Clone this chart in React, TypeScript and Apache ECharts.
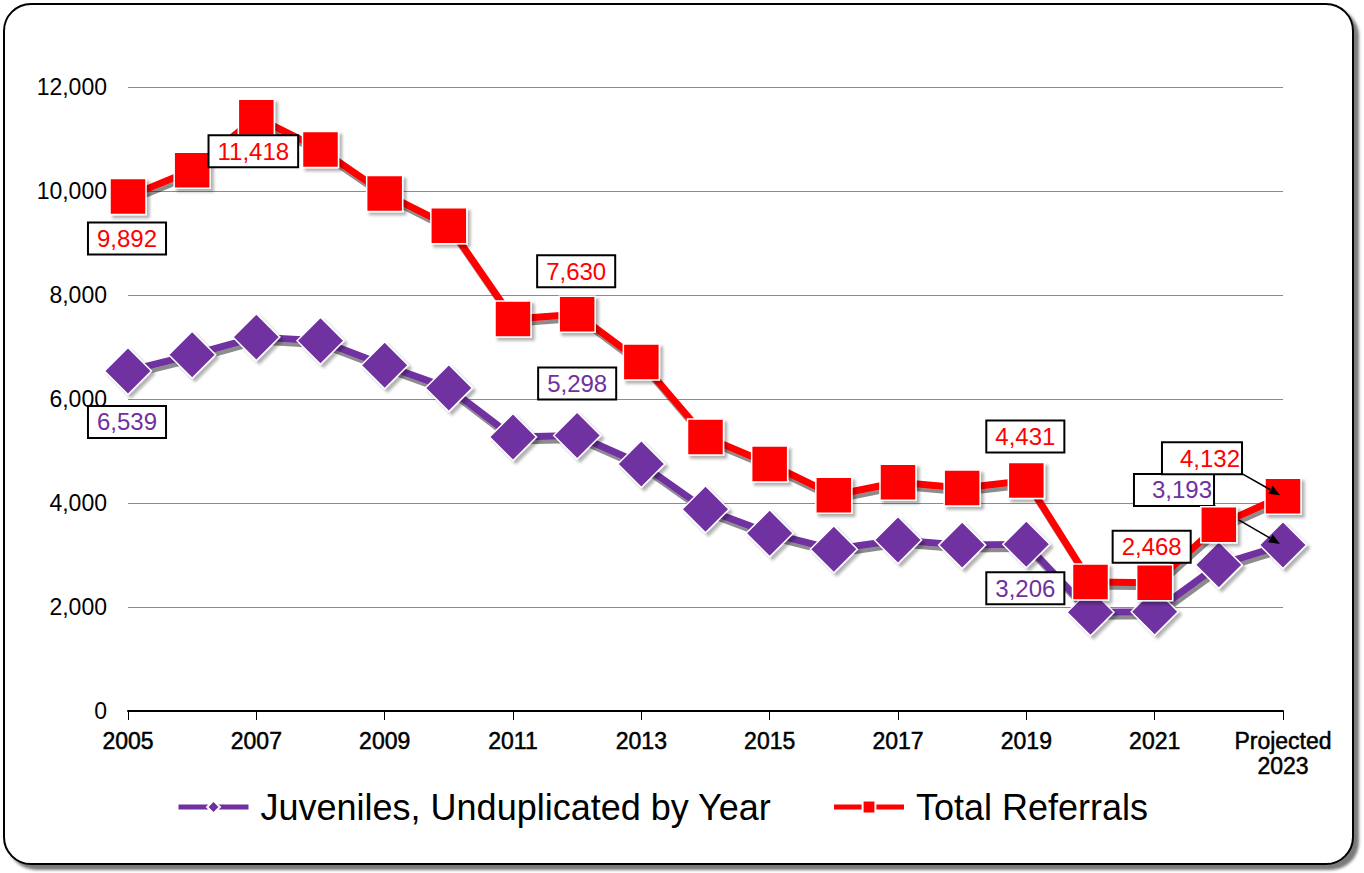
import React, { useEffect, useRef } from 'react';
import * as echarts from 'echarts';

const categories = [
  '2005', '2006', '2007', '2008', '2009', '2010', '2011', '2012', '2013', '2014',
  '2015', '2016', '2017', '2018', '2019', '2020', '2021', '2022', 'Projected\n2023',
];
const juveniles = [
  6539, 6850, 7190, 7120, 6650, 6210, 5270, 5298, 4750, 3880,
  3420, 3110, 3290, 3190, 3206, 1900, 1910, 2810, 3193,
];
const referrals = [
  9892, 10400, 11418, 10800, 9950, 9330, 7540, 7630, 6710, 5270,
  4750, 4150, 4400, 4290, 4431, 2480, 2468, 3580, 4132,
];
const seriesNames = ['Juveniles, Unduplicated by Year', 'Total Referrals'];
const yMin = 0;
const yMax = 12000;
const yInterval = 2000;

const RED = '#FF0000';
const PURPLE = '#7030A0';
const FONT = '"Liberation Sans", Arial, Helvetica, sans-serif';

type LabelCfg = { offset: [number, number]; padding?: number[] };
const redLabelCfg: Record<number, LabelCfg> = {
  0: { offset: [-1, 42] },
  2: { offset: [-3, 34] },
  7: { offset: [-1, -43] },
  14: { offset: [-1, -44] },
  16: { offset: [-3, -36] },
  18: { offset: [-81, -38], padding: [2, 1, 2, 17] },
};
const purpleLabelCfg: Record<number, LabelCfg> = {
  0: { offset: [-1, 51] },
  7: { offset: [0, -52] },
  14: { offset: [-1, 44] },
  18: { offset: [-109, -55], padding: [2, 1, 2, 17] },
};

function buildData(values: number[], cfg: Record<number, LabelCfg>, color: string) {
  return values.map((v, i) => {
    const c = cfg[i];
    if (!c) return v;
    return {
      value: v,
      label: {
        show: true,
        position: 'inside',
        offset: c.offset,
        formatter: (p: any) => Number(p.value).toLocaleString('en-US'),
        color,
        fontSize: 24,
        fontFamily: FONT,
        lineHeight: 26,
        backgroundColor: '#fff',
        borderColor: '#000',
        borderWidth: 2,
        padding: c.padding || [2, 8, 2, 8],
      },
    };
  });
}

function makeArrow(sx: number, sy: number, ex: number, ey: number, z: number) {
  const dx = ex - sx;
  const dy = ey - sy;
  const len = Math.hypot(dx, dy) || 1;
  const ux = dx / len;
  const uy = dy / len;
  const hl = 11;
  const hw = 4.5;
  const bx = ex - ux * hl;
  const by = ey - uy * hl;
  return [
    {
      type: 'line',
      z,
      silent: true,
      shape: { x1: sx, y1: sy, x2: bx, y2: by },
      style: { stroke: '#000', lineWidth: 1.5 },
    },
    {
      type: 'polygon',
      z,
      silent: true,
      shape: {
        points: [
          [ex, ey],
          [bx - uy * hw, by + ux * hw],
          [bx + uy * hw, by - ux * hw],
        ],
      },
      style: { fill: '#000' },
    },
  ];
}

const lineShadow = {
  shadowColor: 'rgba(0,0,0,0.45)',
  shadowOffsetX: 2,
  shadowOffsetY: 4,
  shadowBlur: 1,
};
const markerShadow = {
  borderColor: '#fff',
  borderWidth: 1.5,
  shadowColor: 'rgba(0,0,0,0.3)',
  shadowBlur: 3,
  shadowOffsetX: 3,
  shadowOffsetY: 3,
};

export default function App() {
  const ref = useRef<HTMLDivElement>(null);

  useEffect(() => {
    if (!ref.current) return;
    const chart = echarts.init(ref.current, null, { renderer: 'svg' });
    const option: any = {
      animation: false,
      backgroundColor: 'transparent',
      grid: { left: 128, right: 81, top: 87, bottom: 162, containLabel: false },
      legend: {
        left: 171,
        top: 784,
        itemWidth: 70,
        itemHeight: 16,
        itemGap: 60,
        selectedMode: false,
        data: seriesNames,
        lineStyle: { width: 5 },
        textStyle: { fontSize: 36, color: '#000', fontFamily: FONT, padding: [0, 0, 0, 7] },
      },
      xAxis: {
        type: 'category',
        data: categories,
        boundaryGap: false,
        axisLine: { show: true, lineStyle: { color: '#000', width: 2 } },
        axisTick: { show: true, interval: 1, length: 9, lineStyle: { color: '#000', width: 1 } },
        axisLabel: {
          interval: 1,
          fontSize: 23,
          fontWeight: 'normal',
          lineHeight: 25,
          color: '#000',
          textBorderColor: '#000',
          textBorderWidth: 0.5,
          fontFamily: FONT,
          margin: 17,
        },
        splitLine: { show: false },
      },
      yAxis: {
        type: 'value',
        min: yMin,
        max: yMax,
        interval: yInterval,
        axisLine: { show: false },
        axisTick: { show: false },
        axisLabel: {
          fontSize: 23,
          color: '#000',
          fontFamily: FONT,
          margin: 21,
          formatter: (v: number) => v.toLocaleString('en-US'),
        },
        splitLine: { show: true, lineStyle: { color: '#8c8c8c', width: 1 } },
      },
      series: [
        {
          id: 'juv',
          name: seriesNames[0],
          type: 'line',
          z: 2,
          data: buildData(juveniles, purpleLabelCfg, PURPLE),
          symbol: 'diamond',
          symbolSize: 47,
          showAllSymbol: true,
          emphasis: { disabled: true },
          lineStyle: { color: PURPLE, width: 7, ...lineShadow },
          itemStyle: { color: PURPLE, ...markerShadow },
        },
        {
          id: 'ref',
          name: seriesNames[1],
          type: 'line',
          z: 4,
          data: buildData(referrals, redLabelCfg, RED),
          symbol: 'rect',
          symbolSize: 36,
          showAllSymbol: true,
          emphasis: { disabled: true },
          lineStyle: { color: RED, width: 7, ...lineShadow },
          itemStyle: { color: RED, ...markerShadow },
        },
      ],
    };
    chart.setOption(option);

    const last = categories.length - 1;
    const pr = chart.convertToPixel({ gridIndex: 0 }, [last, referrals[last]]) as number[];
    const pj = chart.convertToPixel({ gridIndex: 0 }, [last, juveniles[last]]) as number[];
    const elements = [
      ...makeArrow(pr[0] - 42, pr[1] - 23, pr[0] - 3, pr[1] - 1, 10),
      ...makeArrow(pj[0] - 70, pj[1] - 40, pj[0] - 3, pj[1] - 1, 3),
    ];
    chart.setOption({ graphic: { elements } });

    return () => chart.dispose();
  }, []);

  return (
    <div style={{ position: 'absolute', left: 0, top: 0, width: 1364, height: 873, background: '#fff' }}>
      <div
        style={{
          position: 'absolute',
          left: 3,
          top: 3,
          width: 1351,
          height: 862,
          boxSizing: 'border-box',
          border: '2px solid #000',
          borderRadius: 28,
          boxShadow: '5px 5px 3px #7a7a7a',
          background: '#fff',
        }}
      />
      <div ref={ref} style={{ position: 'absolute', left: 0, top: 0, width: 1364, height: 873 }} />
    </div>
  );
}
